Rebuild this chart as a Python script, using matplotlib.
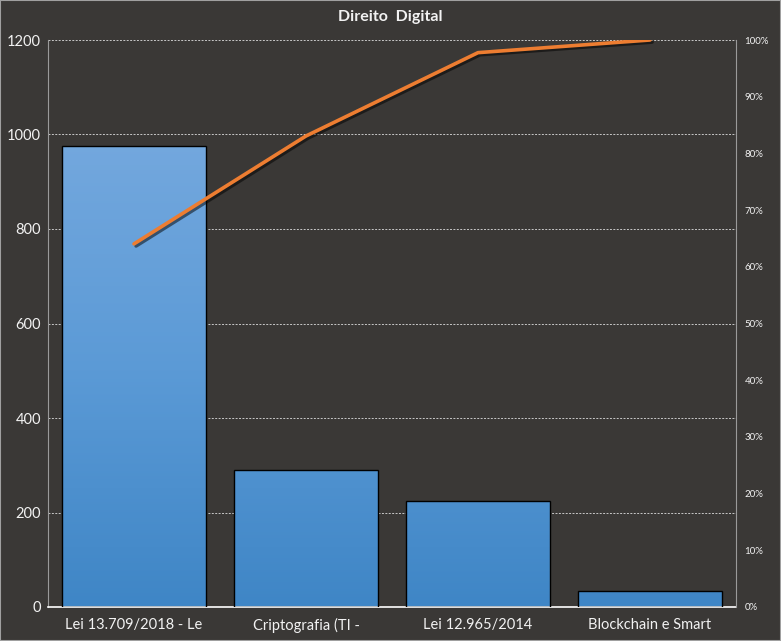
import numpy as np
import matplotlib.pyplot as plt
from matplotlib.ticker import FixedLocator, FuncFormatter
from matplotlib.colors import LinearSegmentedColormap
import matplotlib.patheffects as pe

categories = ['Lei 13.709/2018 - Le', 'Criptografia (TI -', 'Lei 12.965/2014', 'Blockchain e Smart']
values = [976, 290, 224, 34]
pct_ticks = [0, 10, 20, 30, 40, 50, 60, 70, 80, 90, 100]

bg = '#3a3836'
txt = '#f2f2f2'

plt.rcParams['font.family'] = ['Lato', 'DejaVu Sans']

fig = plt.figure(figsize=(7.81, 6.41), dpi=100, facecolor=bg)
ax = fig.add_axes([48 / 781, 1 - 607 / 641, 688 / 781, 567 / 641])
ax.set_facecolor(bg)

x = np.arange(len(categories))
cum = np.cumsum(values) / np.sum(values) * 100

# bars with a vertical gradient fill
ax.set_xlim(-0.5, len(categories) - 0.5)
ax.set_ylim(0, 1200)
grad = np.linspace(0, 1, 256).reshape(-1, 1)
bars = ax.bar(x, values, width=0.84, color='none', edgecolor='black', lw=1, zorder=3)
cmap = LinearSegmentedColormap.from_list('b', ['#3f86c6', '#5b9ad6', '#74a8de'])
for b in bars:
    x0, w, h = b.get_x(), b.get_width(), b.get_height()
    im = ax.imshow(grad * h / 1000, extent=[x0, x0 + w, 0, h], origin='lower',
                   cmap=cmap, vmin=0, vmax=1, aspect='auto', zorder=2)
    im.set_clip_path(b)
ax.set_aspect('auto')

ax.yaxis.set_major_locator(FixedLocator(range(0, 1201, 200)))
ax.grid(axis='y', color='#c8c8c8', ls=(0, (2, 1.5)), lw=0.7, zorder=1)
ax.set_xticks(x)
ax.set_xticklabels(categories, color=txt, fontsize=10.5)
ax.tick_params(axis='y', colors=txt, labelsize=10.5, length=0, pad=5)
ax.tick_params(axis='x', length=0, pad=8)
for s in ['top', 'right']:
    ax.spines[s].set_visible(False)
ax.spines['left'].set_color('#9a9a9a')
ax.spines['bottom'].set_color('white')
ax.spines['bottom'].set_linewidth(1.2)

ax2 = ax.twinx()
ax2.set_ylim(0, 100)
ax2.plot(x, cum, color='#ed7d31', lw=2.6, zorder=5, solid_capstyle='round',
         path_effects=[pe.SimpleLineShadow(offset=(1.5, -1.5), shadow_color='black', alpha=0.5), pe.Normal()])
ax2.yaxis.set_major_locator(FixedLocator(pct_ticks))
ax2.yaxis.set_major_formatter(FuncFormatter(lambda v, p: f'{int(v)}%'))
ax2.tick_params(axis='y', colors=txt, labelsize=7, length=0, pad=6)
for s in ['top', 'left', 'bottom']:
    ax2.spines[s].set_visible(False)
ax2.spines['right'].set_color('#9a9a9a')

fig.text(0.5, 1 - 17 / 641, 'Direito  Digital', ha='center', va='center',
         color=txt, fontsize=11.5, fontweight='bold')

fig.patches.append(plt.Rectangle((0, 0), 1, 1, transform=fig.transFigure,
                                 fill=False, edgecolor='#a0a0a0', lw=1.5))

fig.savefig('out.png', dpi=100, facecolor=bg)
